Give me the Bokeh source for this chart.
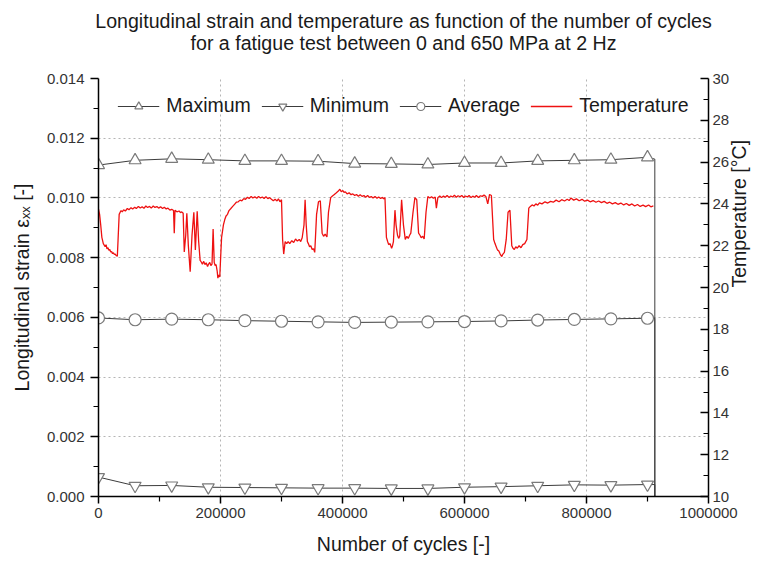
import math
from bokeh.plotting import figure
from bokeh.models import (Range1d, LinearAxis, FixedTicker, Legend, LegendItem,
                          NumeralTickFormatter)
from bokeh.embed import file_html
from bokeh.resources import INLINE

# ---------------- data ----------------
marker_cycles = [0, 60000, 120000, 180000, 240000, 300000, 360000, 420000,
                 480000, 540000, 600000, 660000, 720000, 780000, 840000, 900000]
strain_max = [0.01110, 0.01126, 0.01131, 0.01128, 0.01124, 0.01124, 0.01123, 0.01115,
              0.01114, 0.01112, 0.01117, 0.01117, 0.01124, 0.01126, 0.01128, 0.01136]
strain_min = [0.00065, 0.00036, 0.00037, 0.00031, 0.00030, 0.00029, 0.00028, 0.00028,
              0.00027, 0.00027, 0.00031, 0.00033, 0.00036, 0.00039, 0.00038, 0.00040]
strain_avg = [0.00598, 0.00592, 0.00594, 0.00592, 0.00589, 0.00587, 0.00585, 0.00583,
              0.00584, 0.00585, 0.00586, 0.00588, 0.00591, 0.00593, 0.00595, 0.00597]
end_cycle = 912000          # test end: the strain signals drop to zero
end_max, end_min, end_avg = 0.01130, 0.00040, 0.00597

temp_cycles = [
    0, 1800, 3600, 5500, 7900, 10900, 12400, 13900, 15500, 17000,
    18500, 20000, 21500, 23000, 24500, 26000, 27500, 29100, 30900, 32100,
    33900, 35500, 37000, 39000, 41200, 44000, 47300, 50000, 53300, 56000,
    59400, 62000, 65400, 68500, 71500, 74500, 77600, 80500, 83600, 86500,
    89700, 92500, 95700, 98500, 101800, 105000, 107900, 111000, 113900, 117000,
    120000, 123000, 124200, 125400, 128500, 132100, 134500, 136400, 138800, 140600,
    143000, 144800, 147300, 150300, 153300, 156300, 158800, 161800, 164200, 166600,
    168500, 170300, 172500, 174500, 176500, 178800, 180500, 182400, 184200, 186100,
    187900, 189700, 191200, 192700, 194500, 195700, 197200, 198800, 200500, 201800,
    204800, 207000, 209100, 211500, 213900, 217000, 220000, 223000, 226000, 229000,
    232100, 235000, 238200, 241000, 244200, 247000, 250300, 253000, 256300, 259500,
    262400, 265500, 268500, 271500, 274500, 277500, 280600, 283500, 286600, 289500,
    292700, 295000, 297500, 300000, 301800, 303600, 306000, 308500, 310900, 313500,
    316900, 320000, 323000, 326000, 329100, 331500, 333900, 336900, 338700, 340500,
    342400, 344000, 346000, 348000, 350300, 352500, 354500, 357500, 360600, 363600,
    366600, 369000, 371500, 374500, 377000, 380600, 383500, 386600, 389500, 392700,
    395700, 398000, 400600, 402500, 404800, 407500, 410900, 414000, 416900, 420000,
    423000, 426000, 429000, 432000, 435100, 438000, 441200, 444000, 447200, 450000,
    453300, 456500, 459300, 462500, 465400, 467500, 469600, 472000, 474000, 475700,
    478000, 480500, 482000, 483500, 486000, 487800, 490200, 492000, 493800, 496900,
    499900, 502900, 505500, 507800, 510000, 512000, 515600, 518700, 521700, 524700,
    527000, 529000, 531500, 533900, 536900, 539900, 543000, 546000, 549000, 552000,
    553900, 556300, 559500, 562400, 565500, 568400, 571500, 574500, 577500, 580500,
    583500, 586600, 589500, 592700, 595500, 598700, 601500, 604800, 607500, 610800,
    613500, 616900, 619500, 622900, 626000, 629000, 632000, 635100, 638100, 641100,
    644100, 647800, 650000, 652000, 654000, 656300, 658500, 661100, 663000, 665400,
    668400, 671400, 674500, 677500, 679500, 681700, 684000, 686600, 689500, 692600,
    695500, 698700, 702300, 705400, 708000, 710800, 714000, 716900, 720000, 722900,
    727000, 732000, 736500, 741100, 745500, 750200, 755000, 759300, 764000, 768400,
    771500, 774400, 779000, 783500, 788000, 792600, 797000, 801700, 806000, 810800,
    815500, 819900, 824500, 829000, 833500, 838100, 842500, 847200, 851500, 856300,
    861000, 865400, 870000, 874500, 879000, 883600, 888000, 892700, 897000, 901800,
    905500, 909600]
temp_values = [
    23.75, 23.5, 23.0, 22.4, 22.1, 21.95, 22.05, 21.85, 21.9, 21.78,
    21.82, 21.7, 21.72, 21.62, 21.66, 21.58, 21.6, 21.52, 21.5, 22.3,
    23.5, 23.6, 23.68, 23.62, 23.72, 23.66, 23.78, 23.72, 23.82, 23.76,
    23.84, 23.78, 23.88, 23.8, 23.86, 23.79, 23.9, 23.83, 23.88, 23.8,
    23.9, 23.83, 23.87, 23.8, 23.86, 23.78, 23.84, 23.76, 23.8, 23.7,
    23.74, 23.68, 22.6, 23.7, 23.62, 23.66, 23.58, 23.62, 23.55, 21.7,
    22.5, 23.55, 22.0, 20.75, 22.5, 23.6, 21.8, 23.65, 22.2, 21.3,
    21.22, 21.12, 21.25, 21.1, 21.18, 21.0, 21.12, 21.2, 21.05, 21.12,
    22.8, 21.2, 21.05, 21.1, 20.8, 20.45, 20.6, 20.5, 21.6, 22.4,
    23.0, 23.25, 23.42, 23.5, 23.68, 23.78, 23.88, 23.98, 24.08, 24.1,
    24.18, 24.15, 24.25, 24.22, 24.32, 24.26, 24.36, 24.28, 24.34, 24.27,
    24.36, 24.28, 24.33, 24.26, 24.35, 24.25, 24.3, 24.22, 24.15, 24.22,
    24.14, 24.24, 24.1, 24.2, 22.3, 21.6, 22.2, 22.1, 22.2, 22.1,
    22.24, 22.15, 22.32, 22.22, 22.3, 22.2, 22.38, 23.0, 24.2, 23.0,
    22.2, 22.1, 21.95, 22.0, 21.82, 21.85, 21.68, 23.5, 24.1, 24.15,
    22.6, 22.45, 22.55, 22.42, 23.6, 24.3, 24.38, 24.45, 24.52, 24.6,
    24.7, 24.58, 24.64, 24.55, 24.58, 24.48, 24.53, 24.44, 24.48, 24.4,
    24.45, 24.37, 24.44, 24.36, 24.4, 24.32, 24.4, 24.31, 24.35, 24.28,
    24.36, 24.27, 24.33, 24.26, 24.31, 24.25, 24.3, 22.4, 22.2, 22.05,
    22.1, 21.88, 22.0, 22.2, 23.7, 23.0, 22.5, 22.35, 22.45, 24.2,
    23.0, 22.3, 22.45, 22.35, 22.5, 22.6, 23.6, 24.3, 24.2, 22.6,
    22.5, 22.38, 22.45, 22.32, 23.6, 24.35, 24.28, 24.34, 24.27, 24.33,
    23.8, 24.3, 24.38, 24.3, 24.38, 24.32, 24.4, 24.31, 24.38, 24.33,
    24.41, 24.32, 24.39, 24.34, 24.4, 24.31, 24.38, 24.33, 24.4, 24.3,
    24.37, 24.32, 24.4, 24.31, 24.39, 24.36, 24.42, 24.35, 24.0, 24.45,
    24.4, 22.3, 22.1, 21.95, 21.8, 21.75, 21.6, 21.48, 21.6, 21.68,
    22.3, 23.6, 23.7, 22.0, 21.88, 21.82, 21.95, 21.88, 22.0, 21.9,
    22.05, 22.1, 22.3, 23.8, 23.88, 23.95, 23.9, 24.0, 23.94, 24.05,
    24.0, 24.1, 24.04, 24.12, 24.08, 24.18, 24.1, 24.2, 24.14, 24.22,
    24.16, 24.28, 24.18, 24.24, 24.15, 24.22, 24.13, 24.18, 24.1, 24.16,
    24.08, 24.14, 24.06, 24.12, 24.03, 24.08, 24.0, 24.06, 23.98, 24.04,
    23.95, 24.02, 23.93, 24.0, 23.9, 23.97, 23.88, 23.94, 23.87, 23.95,
    23.86, 23.9]

x_ticks = [0, 200000, 400000, 600000, 800000, 1000000]
x_minor = [100000, 300000, 500000, 700000, 900000]
y_ticks = [0.000, 0.002, 0.004, 0.006, 0.008, 0.010, 0.012, 0.014]
y_minor = [0.001, 0.003, 0.005, 0.007, 0.009, 0.011, 0.013]
t_ticks = [10, 12, 14, 16, 18, 20, 22, 24, 26, 28, 30]
t_minor = [11, 13, 15, 17, 19, 21, 23, 25, 27, 29]

title_lines = ["Longitudinal strain and temperature as function of the number of cycles",
               "for a fatigue test between 0 and 650 MPa at 2 Hz"]

FONT = "Liberation Sans"
TXT = "#1a1a1a"

p = figure(width=764, height=560, output_backend="svg", toolbar_location=None,
           x_range=Range1d(0, 1000000), y_range=Range1d(0, 0.014),
           min_border_left=98, min_border_right=55, min_border_top=78, min_border_bottom=64,
           background_fill_color="white", border_fill_color="white", title=None)
p.outline_line_color = None

xa = p.below[0]
ya = p.left[0]

p.extra_y_ranges = {"temp": Range1d(10, 30)}

p.xgrid.ticker = FixedTicker(ticks=x_ticks[1:-1])
p.ygrid.ticker = FixedTicker(ticks=y_ticks[1:-1])
for g in (p.xgrid, p.ygrid):
    g.grid_line_color = "#b5b5b5"
    g.grid_line_dash = "2 3"
    g.grid_line_width = 1

def style_axis(ax):
    ax.axis_line_color = "black"
    ax.axis_line_width = 1.5
    ax.major_tick_line_color = "black"
    ax.minor_tick_line_color = "black"
    ax.major_tick_line_width = 1.5
    ax.minor_tick_line_width = 1.2
    ax.major_label_text_font = FONT
    ax.major_label_text_font_size = "15px"
    ax.major_label_text_color = "#333333"
    ax.axis_label_text_font = FONT
    ax.axis_label_text_font_size = "19.5px"
    ax.axis_label_text_font_style = "normal"
    ax.axis_label_text_color = TXT

xa.ticker = FixedTicker(ticks=x_ticks, minor_ticks=x_minor)
xa.formatter = NumeralTickFormatter(format="0")
xa.axis_label = "Number of cycles [-]"
style_axis(xa)
xa.major_tick_in, xa.major_tick_out = 0, 7
xa.minor_tick_in, xa.minor_tick_out = 0, 5
xa.major_label_standoff = 4
xa.axis_label_standoff = 12

ya.ticker = FixedTicker(ticks=y_ticks, minor_ticks=y_minor)
ya.formatter = NumeralTickFormatter(format="0.000")
ya.axis_label = "Longitudinal strain \u03b5\u2093\u2093 [-]"
style_axis(ya)
ya.major_tick_in, ya.major_tick_out = 0, 8
ya.minor_tick_in, ya.minor_tick_out = 0, 5
ya.major_label_standoff = 6
ya.axis_label_standoff = 11

ra = LinearAxis(y_range_name="temp", axis_label="Temperature [\u00b0C]")
ra.ticker = FixedTicker(ticks=t_ticks, minor_ticks=t_minor)
style_axis(ra)
ra.major_tick_in, ra.major_tick_out = 8, 0
ra.minor_tick_in, ra.minor_tick_out = 5, 0
ra.major_label_standoff = 4
ra.axis_label_standoff = 7
ra.axis_label_orientation = math.pi / 2   # read bottom-to-top, like the left title
p.add_layout(ra, "right")

# two centred title lines, each carried by a tick-less axis above the frame
# (first added sits closest to the frame)
for txt, standoff in ((title_lines[1], 25), (title_lines[0], -3)):
    tax = LinearAxis(ticker=FixedTicker(ticks=[]), axis_label=txt)
    tax.axis_line_color = None
    tax.major_tick_in = tax.major_tick_out = 0
    tax.minor_tick_in = tax.minor_tick_out = 0
    tax.major_label_standoff = 0
    tax.axis_label_standoff = standoff
    tax.axis_label_text_font = FONT
    tax.axis_label_text_font_size = "19.6px"
    tax.axis_label_text_font_style = "normal"
    tax.axis_label_text_color = TXT
    p.add_layout(tax, "above")

LINE_C = "#3c3c3c"
MK_C = "#7a7a7a"

def series(vals, end_val, marker):
    ln = p.line(marker_cycles + [end_cycle, end_cycle], vals + [end_val, 0],
                line_color=LINE_C, line_width=1)
    sc = p.scatter(marker_cycles, vals, marker=marker, size=12,
                   line_color=MK_C, fill_color="white", line_width=1.2)
    return ln, sc

lmax, smax = series(strain_max, end_max, "triangle")
lmin, smin = series(strain_min, end_min, "inverted_triangle")
lavg, savg = series(strain_avg, end_avg, "circle")
ltemp = p.line(temp_cycles, temp_values, y_range_name="temp",
               line_color="#ee1111", line_width=1.3)

legend = Legend(items=[LegendItem(label="Maximum", renderers=[lmax, smax]),
                       LegendItem(label="Minimum", renderers=[lmin, smin]),
                       LegendItem(label="Average", renderers=[lavg, savg]),
                       LegendItem(label="Temperature", renderers=[ltemp])],
                orientation="horizontal", location="top_center")
legend.label_text_font = FONT
legend.label_text_font_size = "19.5px"
legend.label_text_color = TXT
legend.glyph_width = 42
legend.label_standoff = 7
legend.spacing = 10
legend.border_line_color = None
legend.background_fill_alpha = 0
legend.margin = 16
legend.padding = 6
p.add_layout(legend)

open("out.html", "w").write(file_html(p, INLINE))
